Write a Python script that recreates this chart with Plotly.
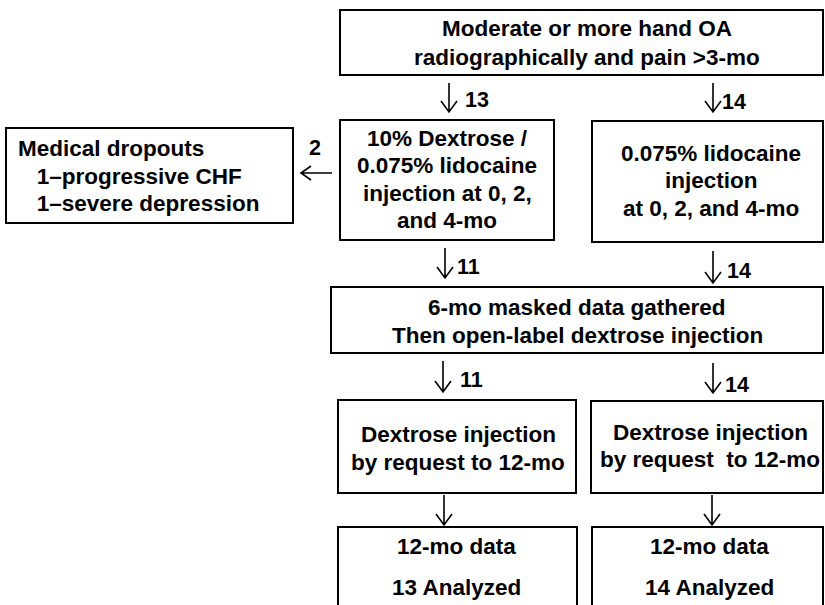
import plotly.graph_objects as go

# ---- data ----
box_lines = [
    ["Moderate or more hand OA", "radiographically and pain >3-mo"],
    ["Medical dropouts", "   1–progressive CHF", "   1–severe depression"],
    ["10% Dextrose /", "0.075% lidocaine", "injection at 0, 2,", "and 4-mo"],
    ["0.075% lidocaine", "injection", "at 0, 2, and 4-mo"],
    ["6-mo masked data gathered", "Then open-label dextrose injection"],
    ["Dextrose injection", "by request to 12-mo"],
    ["Dextrose injection", "by request  to 12-mo"],
    ["12-mo data", "13 Analyzed"],
    ["12-mo data", "14 Analyzed"],
]
arrow_counts = ["13", "14", "11", "14", "11", "14", "", ""]
dropout_count = "2"

# ---- layout geometry (pixels) ----
boxes = [
    (340, 10, 823, 75),
    (6, 128, 293, 223),
    (340, 120, 554, 240),
    (592, 121, 823, 242),
    (331, 287, 823, 353),
    (338, 400, 576, 493),
    (591, 401, 823, 493),
    (338, 527, 577, 620),
    (592, 527, 823, 620),
]
# x anchor, alignment, line centres
text_pos = [
    (587, "center", [28, 57]),
    (16, "left", [148, 176, 203]),
    (447, "center", [138, 165, 193, 220]),
    (711, "center", [153, 180, 208]),
    (577, "center", [307, 335]),
    (458, "center", [434, 462]),
    (710, "center", [432, 459]),
    (456, "center", [546, 587]),
    (709, "center", [546, 587]),
]
arrows = [
    (449, 83, 112), (713, 83, 112),
    (445, 248, 278), (713, 251, 283),
    (443, 361, 392), (713, 363, 393),
    (444, 495, 525), (712, 495, 525),
]
count_pos = [(463, 100), (720, 102), (455, 267), (725, 271), (458, 380), (723, 385), (0, 0), (0, 0)]

FONT = "Liberation Sans, Arial, sans-serif"
FS = 22.5
fig = go.Figure()
shapes = []
annotations = []

for (x0, y0, x1, y1) in boxes:
    shapes.append(dict(type="rect", x0=x0, y0=y0, x1=x1, y1=y1,
                       line=dict(color="black", width=2), xref="x", yref="y"))

for lines, (x, al, ys) in zip(box_lines, text_pos):
    for ln, y in zip(lines, ys):
        annotations.append(dict(x=x, y=y, xref="x", yref="y", text="<b>" + ln + "</b>",
                                showarrow=False, align=al,
                                xanchor="left" if al == "left" else "center",
                                yanchor="middle",
                                font=dict(family=FONT, size=FS, color="black")))

for (x, ya, yb), c, (cx, cy) in zip(arrows, arrow_counts, count_pos):
    shapes.append(dict(type="path",
                       path=f"M {x} {ya} L {x} {yb} M {x-8} {yb-11} L {x} {yb} L {x+8} {yb-11}",
                       line=dict(color="black", width=1.6), xref="x", yref="y"))
    if c:
        annotations.append(dict(x=cx, y=cy, xref="x", yref="y",
                                text="<b>" + c + "</b>", showarrow=False,
                                xanchor="left", yanchor="middle",
                                font=dict(family=FONT, size=FS - 1, color="black")))

# dropout arrow
shapes.append(dict(type="path", path="M 332 173 L 301 173 M 311 166 L 301 173 L 311 180",
                   line=dict(color="black", width=1.6), xref="x", yref="y"))
annotations.append(dict(x=315, y=148, xref="x", yref="y", text="<b>" + dropout_count + "</b>",
                        showarrow=False, xanchor="center", yanchor="middle",
                        font=dict(family=FONT, size=FS - 1, color="black")))

fig.update_layout(
    width=825, height=605,
    margin=dict(l=0, r=0, t=0, b=0),
    paper_bgcolor="white", plot_bgcolor="white",
    xaxis=dict(range=[0, 825], visible=False, fixedrange=True),
    yaxis=dict(range=[605, 0], visible=False, fixedrange=True),
    shapes=shapes, annotations=annotations, showlegend=False,
)
fig.write_html("out.html", config={"displayModeBar": False},
               post_script="document.body.style.margin='0';document.body.style.overflow='hidden';")
